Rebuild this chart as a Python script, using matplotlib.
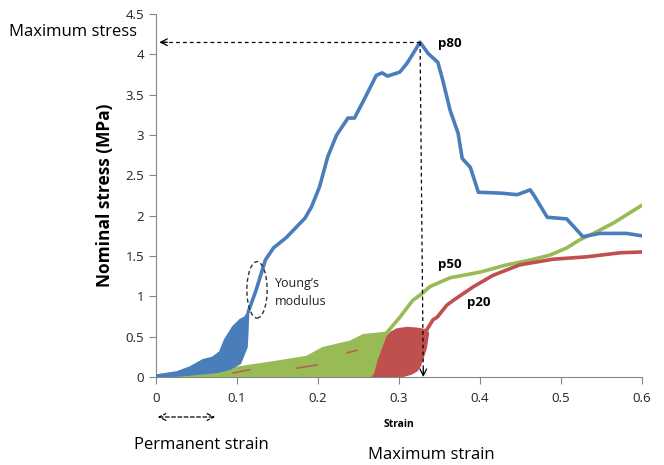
import matplotlib
matplotlib.use("Agg")
import matplotlib.pyplot as plt
from matplotlib.patches import Ellipse, FancyArrowPatch

plt.rcParams.update({
    "font.family": ["Open Sans", "DejaVu Sans"],
    "font.size": 9,
})

BLUE = "#4a7ebb"
GREEN = "#98bb55"
RED = "#c0504d"

# ── p80 (blue): cyclic region outline + main curve ──
p80_loop_x = [0.0, 0.026, 0.042, 0.058, 0.07, 0.079, 0.085, 0.095, 0.104, 0.11, 0.114,
              0.113, 0.112, 0.104, 0.091, 0.075, 0.033, 0.0]
p80_loop_y = [0.02, 0.06, 0.12, 0.21, 0.24, 0.31, 0.46, 0.62, 0.71, 0.74, 0.81,
              0.55, 0.37, 0.17, 0.10, 0.06, 0.02, 0.0]
p80_x = [0.114, 0.124, 0.135, 0.145, 0.161, 0.184, 0.192, 0.202, 0.212, 0.223, 0.237,
         0.245, 0.258, 0.272, 0.279, 0.286, 0.301, 0.31, 0.326, 0.336, 0.348, 0.354,
         0.363, 0.373, 0.378, 0.388, 0.398, 0.425, 0.446, 0.462, 0.468, 0.483, 0.507,
         0.527, 0.548, 0.581, 0.6]
p80_y = [0.81, 1.09, 1.45, 1.60, 1.73, 1.97, 2.11, 2.36, 2.73, 3.00, 3.21,
         3.21, 3.46, 3.74, 3.77, 3.73, 3.78, 3.89, 4.15, 4.01, 3.90, 3.68,
         3.31, 3.02, 2.71, 2.60, 2.29, 2.28, 2.26, 2.32, 2.23, 1.98, 1.96,
         1.74, 1.78, 1.78, 1.75]

# ── p50 (green) ──
p50_loop_x = [0.0, 0.075, 0.149, 0.186, 0.206, 0.24, 0.256, 0.285,
              0.28, 0.272, 0.268, 0.264, 0.0]
p50_loop_y = [0.02, 0.08, 0.19, 0.25, 0.36, 0.44, 0.52, 0.55,
              0.42, 0.20, 0.05, 0.0, 0.0]
p50_x = [0.285, 0.301, 0.317, 0.328, 0.338, 0.363, 0.4, 0.433, 0.462, 0.486, 0.507,
         0.523, 0.54, 0.565, 0.6]
p50_y = [0.55, 0.74, 0.95, 1.03, 1.12, 1.23, 1.30, 1.39, 1.45, 1.51, 1.60,
         1.70, 1.78, 1.91, 2.13]

# ── p20 (red) ──
p20_loop_x = [0.248, 0.255, 0.262, 0.268, 0.275, 0.285, 0.29, 0.297, 0.31, 0.322, 0.334,
              0.336, 0.333, 0.326, 0.322, 0.315, 0.301]
p20_loop_y = [0.0, 0.08, 0.15, 0.21, 0.33, 0.50, 0.55, 0.59, 0.61, 0.60, 0.58,
              0.54, 0.35, 0.14, 0.08, 0.04, 0.0]
p20_x = [0.334, 0.342, 0.347, 0.359, 0.367, 0.392, 0.416, 0.449, 0.49, 0.532, 0.573, 0.6]
p20_y = [0.58, 0.71, 0.74, 0.89, 0.95, 1.12, 1.26, 1.39, 1.46, 1.49, 1.54, 1.55]
# red streaks showing through the green loops
p20_streaks = [
    ([0.095, 0.116], [0.05, 0.09]),
    ([0.174, 0.199], [0.11, 0.15]),
    ([0.236, 0.248], [0.30, 0.33]),
]

peak = (0.326, 4.15)
max_strain = 0.33

W, H = 664, 465


def px(x, y):
    """figure pixel -> figure fraction"""
    return x / W, 1 - y / H


fig = plt.figure(figsize=(W / 100, H / 100), dpi=100)
ax = fig.add_axes([156 / W, 1 - 377 / H, (642 - 156) / W, (377 - 14) / H])

# cyclic regions
ax.fill(p20_loop_x, p20_loop_y, color=RED, lw=1.5, zorder=2)
ax.plot([0, 0.25], [0.01, 0.01], color=RED, lw=2, zorder=2)
ax.fill(p50_loop_x, p50_loop_y, color=GREEN, lw=1.5, zorder=3)
for sx, sy in p20_streaks:
    ax.plot(sx, sy, color=RED, lw=1.2, zorder=3.5, alpha=0.8)
ax.fill(p80_loop_x, p80_loop_y, color=BLUE, lw=1.5, zorder=4)

# main curves
ax.plot(p50_x, p50_y, color=GREEN, lw=2.6, zorder=3, solid_capstyle="round")
ax.plot(p20_x, p20_y, color=RED, lw=2.6, zorder=3, solid_capstyle="round")
ax.plot(p80_x, p80_y, color=BLUE, lw=2.6, zorder=4, solid_capstyle="round",
        solid_joinstyle="round")

ax.set_xlim(0, 0.6)
ax.set_ylim(0, 4.5)
ax.set_xticks([0, 0.1, 0.2, 0.3, 0.4, 0.5, 0.6])
ax.set_xticklabels(["0", "0.1", "0.2", "0.3", "0.4", "0.5", "0.6"])
ax.set_yticks([0, 0.5, 1, 1.5, 2, 2.5, 3, 3.5, 4, 4.5])
ax.set_yticklabels(["0", "0.5", "1", "1.5", "2", "2.5", "3", "3.5", "4", "4.5"])
for s in ["top", "right"]:
    ax.spines[s].set_visible(False)
for s in ["left", "bottom"]:
    ax.spines[s].set_color("#868686")
ax.tick_params(direction="out", length=5, color="#868686", labelcolor="#222222",
               labelsize=9.5)
ax.tick_params(axis="x", pad=6)

ax.set_xlabel("Strain", fontsize=7.5, fontweight="bold", labelpad=10)
ax.set_ylabel("Nominal stress (MPa)", fontsize=12.5, fontweight="bold", labelpad=8)

# max stress / max strain guides
dash = (0, (3, 2.5))
ax.plot([peak[0], 0.006], [peak[1], peak[1]], color="black", lw=0.9, ls=dash, zorder=5)
ax.annotate("", xy=(0.004, peak[1]), xytext=(0.014, peak[1]),
            arrowprops=dict(arrowstyle="->", lw=0.9, color="black",
                            mutation_scale=12, shrinkA=0, shrinkB=0))
ax.plot([peak[0], max_strain], [peak[1], 0.03], color="black", lw=0.9, ls=dash, zorder=5)
ax.annotate("", xy=(max_strain, 0.0), xytext=(max_strain, 0.1),
            arrowprops=dict(arrowstyle="->", lw=0.9, color="black",
                            mutation_scale=12, shrinkA=0, shrinkB=0),
            annotation_clip=False)

# Young's modulus ellipse
ax.add_patch(Ellipse((0.1247, 1.08), 0.025, 0.7, fill=False, ls=(0, (3, 2)),
                     lw=1.0, color="#333333", zorder=6))
ax.text(0.147, 1.165, "Young\u2019s", fontsize=9, va="center", color="#222222")
ax.text(0.147, 0.93, "modulus", fontsize=9, va="center", color="#222222")

# series labels
ax.text(0.348, 4.14, "p80", fontsize=9.5, fontweight="bold", va="center")
ax.text(0.348, 1.39, "p50", fontsize=9.5, fontweight="bold", va="center")
ax.text(0.384, 0.92, "p20", fontsize=9.5, fontweight="bold", va="center")

# outside-axes annotations
fig.text(*px(137, 32), "Maximum stress", fontsize=12, ha="right", va="center")
fig.text(*px(134, 445), "Permanent strain", fontsize=12, ha="left", va="center")
fig.text(*px(368, 455), "Maximum strain", fontsize=12, ha="left", va="center")
fig.add_artist(FancyArrowPatch(
    px(155, 417), px(218, 417), transform=fig.transFigure,
    arrowstyle="<->", mutation_scale=12, lw=0.9, ls=(0, (3, 2)), color="black"))

fig.savefig("out.png", dpi=100)
